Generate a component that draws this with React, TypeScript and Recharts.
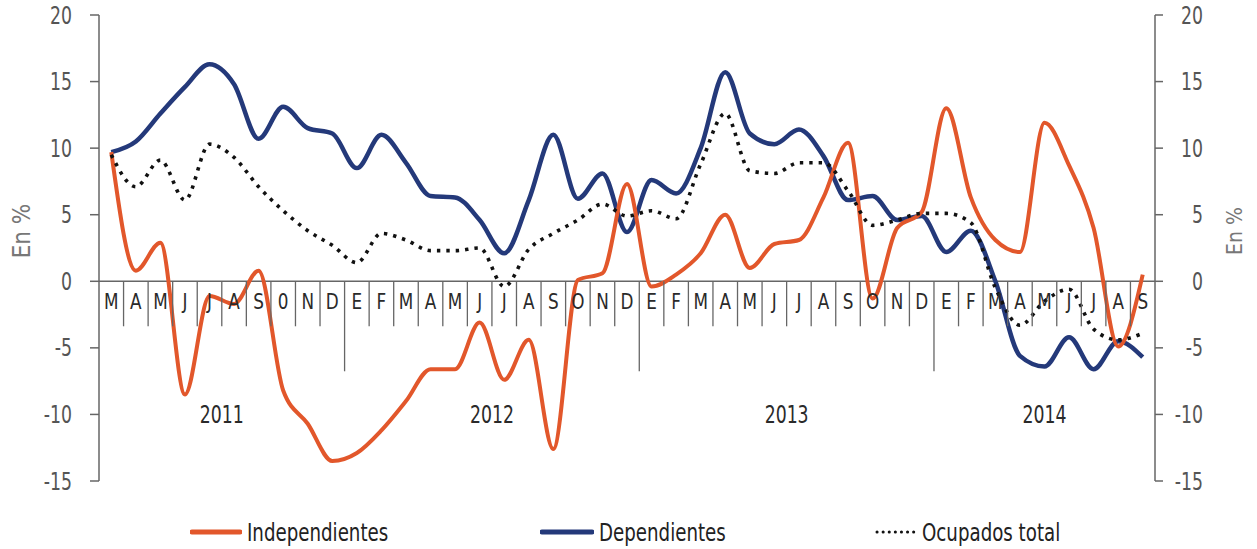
import { LineChart, Line, XAxis, YAxis, ReferenceLine, Legend } from 'recharts';

// Month initials (Spanish), March 2011 to September 2014
const MONTHS = [
    'M', 'A', 'M', 'J', 'J', 'A', 'S', '0', 'N', 'D',
    'E', 'F', 'M', 'A', 'M', 'J', 'J', 'A', 'S', 'O', 'N', 'D',
    'E', 'F', 'M', 'A', 'M', 'J', 'J', 'A', 'S', 'O', 'N', 'D',
    'E', 'F', 'M', 'A', 'M', 'J', 'J', 'A', 'S',
];
const YEARS = ['2011', '2012', '2013', '2014'];
const MONTHS_PER_YEAR = [10, 12, 12, 9];

const INDEPENDIENTES = [
    9.7, 0.8, 2.9, -8.5, -1.1, -1.7, 0.8, -8.2, -10.7, -13.5,
    -12.9, -11.2, -9.0, -6.6, -6.6, -3.1, -7.4, -4.4, -12.6, 0.1, 0.6, 7.3,
    -0.4, 0.5, 2.1, 5.0, 1.0, 2.8, 3.1, 6.3, 10.4, -1.3, 4.0, 5.2,
    13.0, 6.3, 3.1, 2.2, 11.9, 8.7, 4.0, -4.9, 0.5,
];
const DEPENDIENTES = [
    9.7, 10.5, 12.6, 14.6, 16.3, 14.8, 10.7, 13.1, 11.5, 11.1,
    8.5, 11.0, 8.9, 6.4, 6.3, 4.6, 2.1, 6.1, 11.0, 6.2, 8.1, 3.7,
    7.6, 6.6, 10.0, 15.7, 11.1, 10.3, 11.4, 9.4, 6.1, 6.4, 4.6, 4.9,
    2.2, 3.8, 0.0, -5.6, -6.4, -4.2, -6.6, -4.5, -5.7,
];
const OCUPADOS = [
    9.5, 7.1, 9.1, 6.1, 10.3, 9.3, 7.1, 5.3, 3.8, 2.7,
    1.4, 3.6, 3.1, 2.3, 2.3, 2.5, -0.4, 2.4, 3.6, 4.6, 5.8, 4.9,
    5.3, 4.7, 8.8, 12.6, 8.3, 8.1, 8.9, 8.9, 6.8, 4.2, 4.6, 5.1,
    5.1, 4.4, -0.5, -3.3, -1.5, -0.6, -3.6, -4.4, -3.9,
];
const Y_TICKS = [-15, -10, -5, 0, 5, 10, 15, 20];

const FONT = "'Liberation Sans Narrow', 'DejaVu Sans Condensed', 'Liberation Sans', sans-serif";
const ORANGE = '#E2572B';
const BLUE = '#24397A';

const W = 1257;
const H = 549;
const MARGIN = { top: 15, right: 0, bottom: 67, left: 0 };
const LEFT_W = 99;
const RIGHT_W = 102;
const PLOT_W = W - LEFT_W - RIGHT_W;
const PLOT_H = H - MARGIN.top - MARGIN.bottom - 1;
const Y_MIN = -15;
const Y_MAX = 20;
const BAND = PLOT_W / MONTHS.length;

const YEAR_STARTS = MONTHS_PER_YEAR.map((_, i) =>
    MONTHS_PER_YEAR.slice(0, i).reduce((a, b) => a + b, 0)
);

const data = MONTHS.map((m, i) => ({
    id: `${i}-${m}`,
    independientes: INDEPENDIENTES[i],
    dependientes: DEPENDIENTES[i],
    ocupados: OCUPADOS[i],
}));

const LEGEND_ITEMS = [
    { name: 'Independientes', color: ORANGE, dash: undefined, left: 190, swatch: 52, width: 5 },
    { name: 'Dependientes', color: BLUE, dash: undefined, left: 540, swatch: 54, width: 5 },
    { name: 'Ocupados total', color: '#111', dash: '0.1 6', left: 875, swatch: 42, width: 3 },
];

// the reference uses a condensed face, so squeeze the text horizontally
function NarrowText({ x, y, anchor, size, fill, sx = 0.8, children }: any) {
    return (
        <text transform={`translate(${x} ${y}) scale(${sx} 1)`} textAnchor={anchor}
            fontSize={size} fill={fill} fontFamily={FONT}>
            {children}
        </text>
    );
}

function MonthTick(props: any) {
    const { x, y, payload } = props;
    const i = payload.index;
    // axis sits at the bottom of the plot, the labels hang from the zero line
    const zeroY = y - PLOT_H * (0 - Y_MIN) / (Y_MAX - Y_MIN);
    const left = x - BAND / 2;
    const yearIdx = YEAR_STARTS.indexOf(i);
    return (
        <g>
            {i > 0 && (
                <line x1={left} x2={left} y1={zeroY} y2={zeroY + (yearIdx >= 0 ? 90 : 45)}
                    stroke="#666" strokeWidth={1.3} />
            )}
            <NarrowText x={x} y={zeroY + 28} anchor="middle" size={22} fill="#2a2a2a" sx={0.85}>
                {MONTHS[i]}
            </NarrowText>
            {yearIdx >= 0 && (
                <NarrowText x={left + MONTHS_PER_YEAR[yearIdx] * BAND / 2} y={zeroY + 142} anchor="middle"
                    size={24} fill="#2a2a2a">
                    {YEARS[yearIdx]}
                </NarrowText>
            )}
        </g>
    );
}

function LeftTick(props: any) {
    const { x, y, payload } = props;
    return (
        <NarrowText x={x} y={y + 8.5} anchor="end" size={24} fill="#555">
            {payload.value}
        </NarrowText>
    );
}

function RightTick(props: any) {
    const { x, y, payload } = props;
    return (
        <NarrowText x={x + 40} y={y + 8.5} anchor="end" size={24} fill="#555">
            {payload.value}
        </NarrowText>
    );
}

function AxisTitle(props: any) {
    const { viewBox, dx, size } = props;
    const cx = viewBox.x + dx;
    const cy = viewBox.y + viewBox.height / 2 - 17;
    return (
        <text x={cx} y={cy} transform={`rotate(-90 ${cx} ${cy})`} textAnchor="middle"
            dominantBaseline="central" fontSize={size} fill="#777" fontFamily={FONT}>
            En %
        </text>
    );
}

function LegendContent() {
    return (
        <div style={{ position: 'relative', width: W, height: 34, fontFamily: FONT }}>
            {LEGEND_ITEMS.map((it) => (
                <div key={it.name} style={{ position: 'absolute', left: it.left, top: 0, height: 34, display: 'flex', alignItems: 'center' }}>
                    <svg width={it.swatch} height={8}>
                        <line x1={2} x2={it.swatch - 2} y1={4} y2={4} stroke={it.color} strokeWidth={it.width}
                            strokeDasharray={it.dash} strokeLinecap="round" />
                    </svg>
                    <span style={{
                        fontSize: 25, color: '#222', marginLeft: 5, display: 'inline-block',
                        transform: 'scaleX(0.81)', transformOrigin: 'left center', whiteSpace: 'nowrap',
                    }}>{it.name}</span>
                </div>
            ))}
        </div>
    );
}

export default function App() {
    return (
        <div style={{ width: W, height: H, background: '#fff' }}>
            <style>{'body{margin:0}'}</style>
            <LineChart width={W} height={H} data={data} margin={MARGIN}>
                <XAxis dataKey="id" scale="band" height={1} axisLine={false} tickLine={false}
                    tickSize={0} tickMargin={0} interval={0} tick={<MonthTick />} />
                <YAxis yAxisId="left" domain={[Y_MIN, Y_MAX]} ticks={Y_TICKS} width={LEFT_W}
                    tickSize={9} tickMargin={18} stroke="#666" strokeWidth={1.5}
                    tick={<LeftTick />}
                    label={<AxisTitle dx={22} size={24} />} />
                <YAxis yAxisId="right" orientation="right" domain={[Y_MIN, Y_MAX]} ticks={Y_TICKS} width={RIGHT_W}
                    tickSize={8} tickMargin={0} stroke="#666" strokeWidth={1.5}
                    tick={<RightTick />}
                    label={<AxisTitle dx={80} size={21} />} />
                <ReferenceLine yAxisId="left" y={0} stroke="#666" strokeWidth={1.5} />
                {/* invisible copy so the right axis gets a domain and draws its ticks */}
                <Line yAxisId="right" type="monotone" dataKey="ocupados" stroke="none" strokeWidth={0}
                    dot={false} activeDot={false} legendType="none" isAnimationActive={false} />
                <Line yAxisId="left" type="monotone" dataKey="dependientes" stroke={BLUE} strokeWidth={4.5}
                    dot={false} isAnimationActive={false} />
                <Line yAxisId="left" type="monotone" dataKey="independientes" stroke={ORANGE} strokeWidth={4}
                    dot={false} isAnimationActive={false} />
                <Line yAxisId="left" type="monotone" dataKey="ocupados" stroke="#111" strokeWidth={3.6}
                    strokeDasharray="3.4 6" dot={false} isAnimationActive={false} />
                <Legend layout="horizontal" verticalAlign="middle" align="center" content={<LegendContent />}
                    wrapperStyle={{ top: 515, left: 0, width: W, height: 34 }} />
            </LineChart>
        </div>
    );
}
